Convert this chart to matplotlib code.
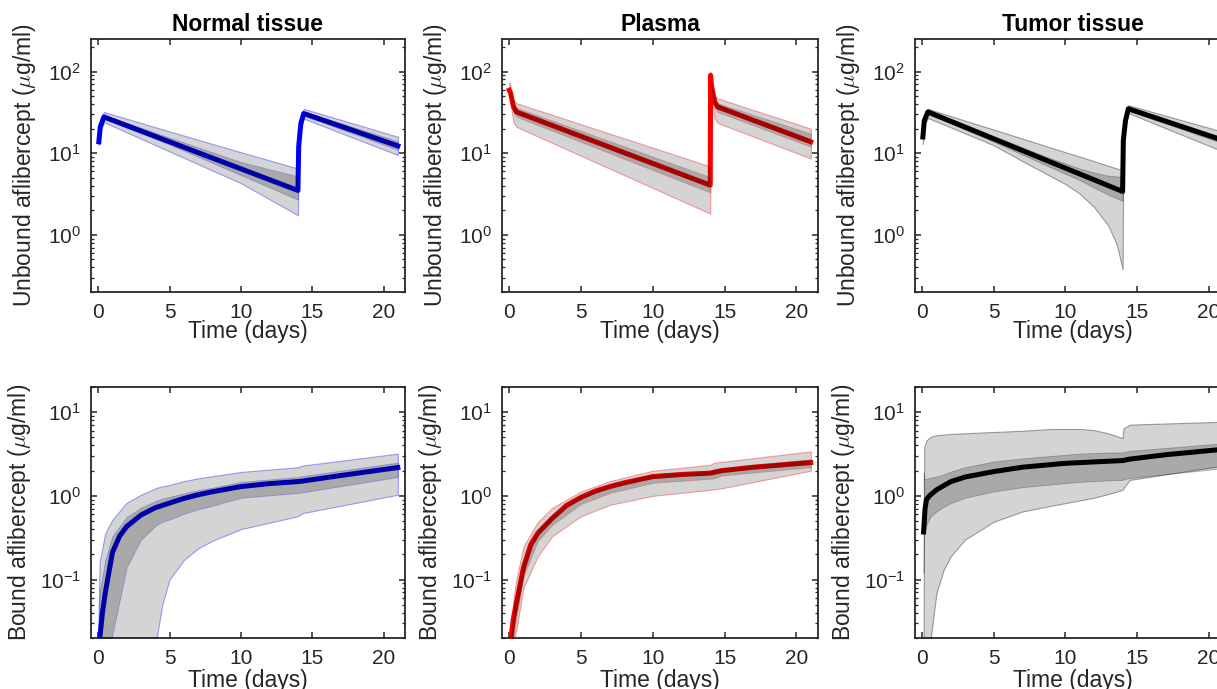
import matplotlib
matplotlib.use('Agg')
import matplotlib.pyplot as plt

plt.rcParams['font.family'] = ['Liberation Sans', 'DejaVu Sans']
plt.rcParams['mathtext.fontset'] = 'cm'

# ---------------- data ----------------
titles = ['Normal tissue', 'Plasma', 'Tumor tissue']
line_colors = [(0, 0, 1), (1, 0, 0), (0, 0, 0)]

# unbound, normal tissue
nt_u_tmed = [0.05, 0.15, 0.4, 14.0, 14.05, 14.2, 14.4, 21.0]
nt_u_med = [13.8, 21, 27.8, 3.5, 12, 23, 30.6, 12.3]
nt_u_t = [0.05, 0.15, 0.4, 5, 10, 14.0, 14.05, 14.2, 14.4, 21.0]
nt_u_out_lo = [12.5, 18, 24, 10.5, 4.3, 1.74, 10, 19, 26.5, 9.5]
nt_u_out_hi = [15.5, 24, 32, 18.5, 10.3, 6.5, 14, 27, 35, 15.9]
nt_u_in_lo = [13, 20, 26.5, 12.8, 5.4, 2.7, 11, 21, 29, 11]
nt_u_in_hi = [14.5, 22, 29.5, 15.5, 7.8, 5.2, 13, 25, 32.5, 14]

# unbound, plasma
pl_u_tmed = [0.0, 0.1, 0.3, 0.5, 14.0, 14.02, 14.1, 14.3, 14.5, 21.0]
pl_u_med = [59, 54, 37, 32, 4.06, 90, 65, 43, 37, 13.8]
pl_u_t = pl_u_tmed
pl_u_out_lo = [50, 40, 24, 21, 1.82, 71, 45, 27, 23.5, 8.6]
pl_u_out_hi = [75, 66, 45, 41, 6.9, 99, 75, 51, 47, 20]
pl_u_in_lo = [55, 48, 32, 28, 3.3, 82, 58, 37, 32, 12]
pl_u_in_hi = [64, 58, 40, 36, 5.1, 94, 69, 46, 41, 17.4]

# unbound, tumor tissue
tu_u_tmed = [0.05, 0.15, 0.4, 14.0, 14.05, 14.2, 14.4, 21.0]
tu_u_med = [15.8, 25, 32, 3.4, 14.4, 25, 35, 14.4]
tu_u_t = [0.05, 0.15, 0.4, 3, 5, 7, 9, 10, 11, 12, 13, 13.6, 14.0, 14.05, 14.2, 14.4, 21.0]
tu_u_out_lo = [13, 22, 27, 17.5, 12.5, 8.0, 5.2, 4.2, 3.2, 2.2, 1.3, 0.75, 0.38, 12, 21, 31, 10.5]
tu_u_out_hi = [17.5, 28, 35, 25, 19.5, 15.1, 11.7, 10.3, 9.1, 8.0, 7.0, 6.5, 6.2, 17, 29, 38.7, 18.3]
tu_u_in_lo = [15, 23.5, 30, 19.5, 13.8, 9.6, 6.7, 5.6, 4.7, 3.8, 3.1, 2.8, 2.6, 13.5, 23, 33, 13.2]
tu_u_in_hi = [16.8, 26.5, 34, 22.5, 16.2, 11.8, 8.6, 7.5, 6.5, 5.8, 5.3, 5.2, 5.1, 15.5, 27, 37, 15.6]

# bound, normal tissue
nt_b_tmed = [0.12, 0.3, 0.5, 1, 1.5, 2, 3, 4, 5, 6, 7, 8, 10, 12, 14, 14.3, 17, 21]
nt_b_med = [0.02, 0.04, 0.069, 0.21, 0.33, 0.43, 0.59, 0.72, 0.82, 0.93, 1.03, 1.12, 1.29, 1.4, 1.48, 1.5, 1.75, 2.18]
nt_b_t = [0.0, 0.1, 0.5, 1, 2, 3, 4.1, 4.5, 5, 6, 7, 8, 10, 14, 14.3, 21]
nt_b_out_lo = [0.005, 0.005, 0.005, 0.005, 0.005, 0.005, 0.02, 0.05, 0.1, 0.17, 0.235, 0.29, 0.4, 0.57, 0.62, 1.03]
nt_b_out_hi = [0.02, 0.16, 0.36, 0.52, 0.83, 1.03, 1.25, 1.3, 1.35, 1.5, 1.62, 1.72, 1.93, 2.2, 2.3, 3.2]
nt_b_in_lo = [0.005, 0.005, 0.005, 0.022, 0.14, 0.3, 0.45, 0.49, 0.52, 0.61, 0.69, 0.76, 0.95, 1.08, 1.1, 1.68]
nt_b_in_hi = [0.02, 0.07, 0.17, 0.33, 0.56, 0.72, 0.88, 0.93, 0.97, 1.07, 1.17, 1.25, 1.47, 1.68, 1.72, 2.5]

# bound, plasma
pl_b_tmed = [0.12, 0.3, 0.5, 1, 1.5, 2, 3, 4, 5, 6, 7, 8, 10, 12, 14, 14.8, 17, 21]
pl_b_med = [0.02, 0.035, 0.052, 0.14, 0.26, 0.36, 0.54, 0.77, 0.96, 1.14, 1.29, 1.43, 1.70, 1.8, 1.87, 2.0, 2.2, 2.5]
pl_b_t = [0.1, 0.3, 0.5, 1, 2, 3, 5, 7, 10, 14, 14.3, 14.8, 21]
pl_b_out_lo = [0.005, 0.018, 0.025, 0.08, 0.19, 0.33, 0.57, 0.78, 1.0, 1.18, 1.2, 1.23, 2.0]
pl_b_out_hi = [0.02, 0.06, 0.1, 0.25, 0.49, 0.72, 1.13, 1.5, 2.0, 2.35, 2.5, 2.55, 3.4]
pl_b_in_lo = [0.005, 0.02, 0.035, 0.11, 0.29, 0.45, 0.8, 1.08, 1.43, 1.6, 1.62, 1.75, 2.2]
pl_b_in_hi = [0.02, 0.045, 0.07, 0.17, 0.4, 0.6, 1.02, 1.37, 1.8, 2.0, 2.1, 2.15, 2.75]

# bound, tumor tissue
tu_b_tmed = [0.1, 0.2, 0.3, 0.5, 1, 2, 3, 5, 7, 10, 14, 14.5, 17, 21]
tu_b_med = [0.37, 0.7, 0.9, 1.0, 1.18, 1.48, 1.68, 1.95, 2.2, 2.45, 2.64, 2.75, 3.1, 3.6]
tu_b_t = [0.1, 0.14, 0.3, 0.6, 1, 1.5, 2, 3, 5, 7, 9, 11, 12, 13, 14, 14.05, 14.5, 21]
tu_b_out_lo = [0.005, 0.005, 0.005, 0.02, 0.069, 0.13, 0.19, 0.30, 0.49, 0.65, 0.76, 0.88, 0.95, 1.05, 1.18, 1.23, 1.55, 2.3]
tu_b_out_hi = [0.02, 3.8, 4.6, 5.1, 5.3, 5.4, 5.5, 5.6, 5.8, 6.0, 6.3, 6.3, 6.1, 5.6, 4.9, 6.4, 7.1, 7.7]
tu_b_in_lo = [0.12, 0.35, 0.45, 0.57, 0.65, 0.74, 0.82, 0.95, 1.13, 1.27, 1.37, 1.47, 1.5, 1.53, 1.55, 1.58, 1.63, 2.14]
tu_b_in_hi = [1.9, 1.6, 1.6, 1.65, 1.7, 1.8, 1.95, 2.2, 2.57, 2.8, 3.0, 3.2, 3.25, 3.3, 3.3, 3.35, 3.45, 4.25]

top_data = [
    (nt_u_tmed, nt_u_med, nt_u_t, nt_u_out_lo, nt_u_out_hi, nt_u_in_lo, nt_u_in_hi),
    (pl_u_tmed, pl_u_med, pl_u_t, pl_u_out_lo, pl_u_out_hi, pl_u_in_lo, pl_u_in_hi),
    (tu_u_tmed, tu_u_med, tu_u_t, tu_u_out_lo, tu_u_out_hi, tu_u_in_lo, tu_u_in_hi),
]
bottom_data = [
    (nt_b_tmed, nt_b_med, nt_b_t, nt_b_out_lo, nt_b_out_hi, nt_b_in_lo, nt_b_in_hi),
    (pl_b_tmed, pl_b_med, pl_b_t, pl_b_out_lo, pl_b_out_hi, pl_b_in_lo, pl_b_in_hi),
    (tu_b_tmed, tu_b_med, tu_b_t, tu_b_out_lo, tu_b_out_hi, tu_b_in_lo, tu_b_in_hi),
]

# ---------------- layout (pixels) ----------------
W, H = 1217, 689
fig = plt.figure(figsize=(W / 100, H / 100), dpi=100)
cols_px = [(91, 405), (502, 818), (915, 1230)]
rows_px = [(39, 292), (387, 638)]
txt = '#262626'


def add_ax(col, row):
    l, r = cols_px[col]
    t, b = rows_px[row]
    return fig.add_axes([l / W, 1 - b / H, (r - l) / W, (b - t) / H])


def draw(ax, color, d):
    tmed, med, t, out_lo, out_hi, in_lo, in_hi = d
    # line underneath the translucent bands (that is what darkens it)
    ax.plot(tmed, med, color=color, lw=3.6, zorder=2)
    ax.fill_between(t, out_lo, out_hi, facecolor=(0, 0, 0, 0.17),
                    edgecolor=color + (0.35,), lw=0.8, zorder=3)
    ax.fill_between(t, in_lo, in_hi, facecolor=(0, 0, 0, 0.2),
                    edgecolor=color + (0.25,), lw=0.6, zorder=4)


def style(ax, ylim, ylabel, xlab_y, ylab_x):
    ax.set_yscale('log')
    ax.set_ylim(*ylim)
    ax.set_xlim(-0.5, 21.5)
    ax.set_xticks([0, 5, 10, 15, 20])
    ax.tick_params(which='both', direction='in', top=True, right=True,
                   labelsize=15, colors=txt)
    ax.tick_params(axis='x', pad=8)
    ax.tick_params(axis='y', pad=7)
    ax.tick_params(which='major', length=4, width=1.1)
    ax.tick_params(which='minor', length=2.5, width=0.9)
    for s in ax.spines.values():
        s.set_linewidth(1.3)
        s.set_color(txt)
    ax.set_xlabel('Time (days)', fontsize=16.5, color=txt)
    ax.set_ylabel(ylabel, fontsize=16.5, color=txt)
    ax.xaxis.set_label_coords(0.5, xlab_y)
    ax.yaxis.set_label_coords(ylab_x, 0.5)


for i in range(3):
    ax = add_ax(i, 0)
    draw(ax, line_colors[i], top_data[i])
    style(ax, (0.2, 250), r'Unbound aflibercept ($\mu$g/ml)', -0.112, -0.169)
    ax.set_title(titles[i], fontsize=16.5, fontweight='bold', pad=6)

    ax = add_ax(i, 1)
    draw(ax, line_colors[i], bottom_data[i])
    style(ax, (0.02, 20), r'Bound aflibercept ($\mu$g/ml)', -0.122, -0.185)

fig.savefig('out.png', dpi=100)
